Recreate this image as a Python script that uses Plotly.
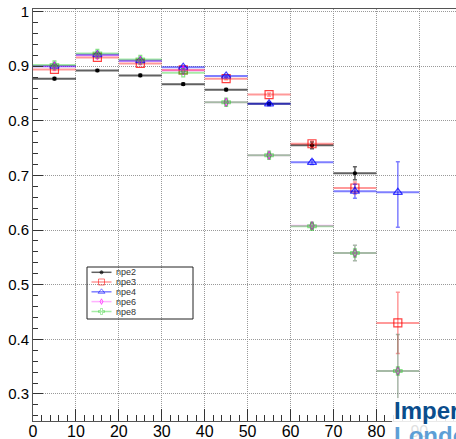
import plotly.graph_objects as go

# ---- data ----
bin_centers = [5, 15, 25, 35, 45, 55, 65, 75, 85]
bin_halfwidth = [5, 5, 5, 5, 5, 5, 5, 5, 5]

npe2 = [0.877, 0.892, 0.883, 0.867, 0.857, 0.831, 0.755, 0.704, None]
npe2_err = [0.002, 0.002, 0.002, 0.002, 0.002, 0.003, 0.006, 0.012, 0.0]

npe3 = [0.894, 0.916, 0.905, 0.893, 0.877, 0.848, 0.758, 0.677, 0.430]
npe3_err = [0.002, 0.002, 0.002, 0.002, 0.002, 0.003, 0.005, 0.011, 0.056]

npe4 = [0.900, 0.921, 0.910, 0.898, 0.882, 0.831, 0.724, 0.671, 0.669]
npe4_err_plus = [0.002, 0.002, 0.002, 0.002, 0.002, 0.003, 0.004, 0.013, 0.056]
npe4_err_minus = [0.002, 0.002, 0.002, 0.002, 0.002, 0.003, 0.004, 0.013, 0.064]

npe6 = [0.900, 0.920, 0.910, 0.892, 0.834, 0.737, 0.608, 0.558, 0.342]
npe6_err = [0.002, 0.002, 0.002, 0.002, 0.002, 0.003, 0.005, 0.014, 0.067]

npe8 = [0.902, 0.923, 0.912, 0.888, 0.834, 0.737, 0.607, 0.558, 0.342]
npe8_err = [0.002, 0.002, 0.002, 0.002, 0.002, 0.003, 0.005, 0.014, 0.067]

y_tickvals = [0.3, 0.4, 0.5, 0.6, 0.7, 0.8, 0.9, 1.0]
y_ticktext = ["0.3", "0.4", "0.5", "0.6", "0.7", "0.8", "0.9", "1"]
x_tickvals = [0, 10, 20, 30, 40, 50, 60, 70, 80, 90]

series = [
    ("npe2", npe2, npe2_err, npe2_err, "rgba(30,30,30,0.7)", "circle", 3, "rgba(0,0,0,1)"),
    ("npe3", npe3, npe3_err, npe3_err, "rgba(255,0,0,0.4)", "square-open", 8, "rgba(255,0,0,0.75)"),
    ("npe4", npe4, npe4_err_plus, npe4_err_minus, "rgba(0,0,255,0.5)", "triangle-up-open", 8, "rgba(0,0,255,0.75)"),
    ("npe6", npe6, npe6_err, npe6_err, "rgba(255,0,255,0.3)", "diamond-tall-open", 6, "rgba(255,0,255,0.9)"),
    ("npe8", npe8, npe8_err, npe8_err, "rgba(0,200,0,0.35)", "cross-open", 7, "rgba(40,200,40,0.55)"),
]

# plot-area geometry (pixels) used for overlay placement
W, H = 456, 439
ML, MR, MT, MB = 33, 0, 9, 18
PW, PH = W - ML - MR, H - MT - MB


def fx(px):
    return (px - ML) / PW


def fy(py):
    return (H - MB - py) / PH


fig = go.Figure()
for name, y, ep, em, col, sym, ms, mcol in series:
    fig.add_trace(go.Scatter(
        x=bin_centers, y=y, name=name, mode="markers", showlegend=False,
        marker=dict(symbol=sym, size=ms, color=mcol, line=dict(color=mcol, width=1.2)),
        error_x=dict(type="data", array=bin_halfwidth, color=col, thickness=2, width=0),
        error_y=dict(type="data", array=ep, arrayminus=em, color=col, thickness=1.5, width=2),
    ))

# ---- ROOT-style legend drawn on an invisible overlay axis ----
leg_rows_py = [272.3, 282.0, 291.8, 301.6, 311.5]
for (name, y, ep, em, col, sym, ms, mcol), py in zip(series, leg_rows_py):
    yy = fy(py)
    fig.add_trace(go.Scatter(
        x=[fx(91.5), fx(101.5), fx(111.5)], y=[yy, yy, yy], xaxis="x2", yaxis="y2",
        mode="lines+markers", showlegend=False, hoverinfo="skip",
        line=dict(color=col, width=1.5),
        marker=dict(symbol=sym, size=[0, max(ms - 2, 3), 0], color=mcol, line=dict(color=mcol, width=1)),
    ))
    fig.add_annotation(text=name, xref="x2", yref="y2", x=fx(113.5), y=yy,
                       xanchor="left", yanchor="middle", showarrow=False,
                       font=dict(size=9, color="#333"))
fig.add_shape(type="rect", xref="x2", yref="y2", x0=fx(87), x1=fx(193), y0=fy(319), y1=fy(267),
              line=dict(color="#222", width=1), fillcolor="rgba(255,255,255,0)", layer="above")

fig.update_layout(
    width=W, height=H,
    margin=dict(l=ML, r=MR, t=MT, b=MB),
    paper_bgcolor="white", plot_bgcolor="white",
    font=dict(family="Liberation Sans, Arial, sans-serif", color="black"),
    showlegend=False,
    xaxis=dict(
        range=[0, 98.55], tickvals=x_tickvals, ticks="inside", ticklen=12,
        tickcolor="#333", showline=True, linecolor="#555", linewidth=1, mirror=True,
        showgrid=True, gridcolor="#999", griddash="1px,1px", gridwidth=1,
        minor=dict(dtick=2, ticks="inside", ticklen=6, tickcolor="#333", showgrid=False),
        tickfont=dict(size=16), zeroline=False, ticklabelstandoff=-4,
    ),
    yaxis=dict(
        range=[0.2505, 1.0046], tickvals=y_tickvals, ticktext=y_ticktext,
        ticks="inside", ticklen=10, tickcolor="#333",
        showline=True, linecolor="#555", linewidth=1, mirror=False,
        showgrid=True, gridcolor="#999", griddash="1px,1px", gridwidth=1,
        minor=dict(dtick=0.02, tick0=0.3, ticks="inside", ticklen=5, tickcolor="#333", showgrid=False),
        tickfont=dict(size=15), zeroline=False,
    ),
    xaxis2=dict(overlaying="x", range=[0, 1], visible=False, fixedrange=True),
    yaxis2=dict(overlaying="y", range=[0, 1], visible=False, fixedrange=True),
)

# logo area (semi-transparent white box with text)
fig.add_shape(type="rect", xref="paper", yref="paper",
              x0=fx(392), x1=1.05, y0=-0.1, y1=fy(398),
              fillcolor="rgba(255,255,255,0.88)", line=dict(width=0), layer="above")
fig.add_annotation(text="<b>Imperial College</b>", xref="paper", yref="paper",
                   x=fx(392), y=fy(395), xanchor="left", yanchor="top",
                   showarrow=False, font=dict(size=24, color="#0a4d8c", family="Liberation Sans, Arial"))
fig.add_annotation(text="<b>London</b>", xref="paper", yref="paper",
                   x=fx(392), y=fy(420), xanchor="left", yanchor="top",
                   showarrow=False, font=dict(size=24, color="#5d9fd6", family="Liberation Sans, Arial"))

fig.write_html(
    "out.html",
    config={"displayModeBar": False},
    post_script="document.body.style.margin='0';document.body.style.overflow='hidden';",
)
